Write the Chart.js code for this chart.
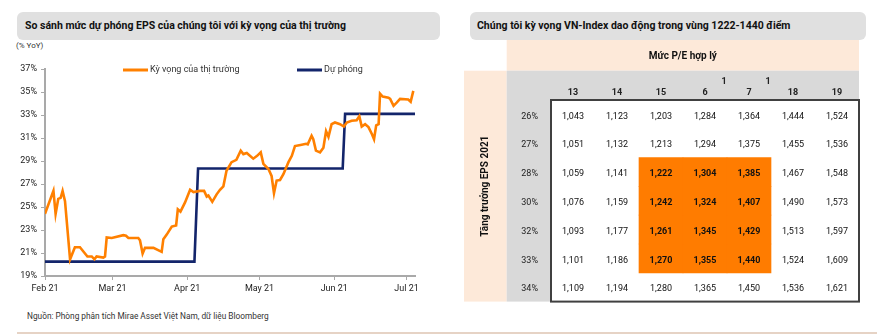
<!DOCTYPE html>
<html>
<head>
<meta charset="utf-8">
<script src="https://cdn.jsdelivr.net/npm/chart.js@4.4.0/dist/chart.umd.min.js"></script>
<style>
  body { margin: 0; width: 877px; height: 335px; background: #fff; position: relative; overflow: hidden; font-family: Roboto, 'Noto Sans', sans-serif; color: #222; }
  .title-box { position: absolute; top: 12px; height: 28px; background: #e0e0e0; border-radius: 6px; font-weight: bold; font-size: 10.5px; line-height: 28px; color: #111; }
  #left-title { left: 17px; width: 423px; padding-left: 8px; box-sizing: border-box; }
  #right-title { left: 470px; width: 396px; padding-left: 7px; box-sizing: border-box; }
  #unit { position: absolute; left: 16px; top: 41px; font-size: 8px; color: #333; }
  #source { position: absolute; left: 27px; top: 311px; font-size: 8.3px; color: #333; }
  #rule { position: absolute; left: 17px; top: 332px; width: 860px; height: 2px; background: #e6d3c5; }
  #lineWrap { position: absolute; left: 0; top: 55px; width: 440px; height: 250px; }
  #tableWrap { position: absolute; left: 464px; top: 40px; width: 413px; height: 280px; }
</style>
</head>
<body>
<div class="title-box" id="left-title">So sánh mức dự phóng EPS của chúng tôi với kỳ vọng của thị trường</div>
<div class="title-box" id="right-title">Chúng tôi kỳ vọng VN-Index dao động trong vùng 1222-1440 điểm</div>
<div id="unit">(% YoY)</div>
<div id="lineWrap"><canvas id="lineChart" width="440" height="250"></canvas></div>
<div id="tableWrap"><canvas id="tableChart" width="413" height="280"></canvas></div>
<div id="source">Nguồn: Phòng phân tích Mirae Asset Việt Nam, dữ liệu Bloomberg</div>
<div id="rule"></div>
<script>
'use strict';

// ---- left chart data (x = days since 1 Feb 2021) ----
let monthDays = [0, 28, 59, 89, 120, 150];
let monthLabels = ['Feb 21', 'Mar 21', 'Apr 21', 'May 21', 'Jun 21', 'Jul 21'];

let marketDays = [0, 3.5, 4.4, 5.5, 6.5, 7.3, 8.3, 10.4, 12.4, 14.5, 17.6, 19.4, 20.5, 21.4, 24.2, 24.9,
  25.6, 27.7, 32.5, 33.6, 34.6, 38.7, 39.4, 40.5, 41.5, 45, 48.4, 49.1, 50.5, 52.6, 54.4, 55.1, 56.2,
  58.1, 60.2, 61.6, 64.3, 66, 67.1, 67.8, 69.4, 71.2, 72.6, 74, 75.3, 77.4, 79.4, 81.2, 82.3, 83.7,
  86.4, 88, 89.5, 90.6, 92.7, 94, 95, 96.1, 97.5, 98.9, 101, 102.4, 103.7, 106, 108.3, 109, 110.6,
  111.3, 112.4, 114.1, 115.5, 116.6, 117.6, 118.9, 120.3, 122.4, 124, 125.2, 127.2, 129.3, 130.4,
  131.4, 132.8, 134.2, 135.6, 136.5, 137.4, 138.4, 139, 140.1, 142.5, 143.2, 144.6, 146, 147.3,
  150.7, 151.7, 152.8];
let marketValues = [24.4, 26.4, 24.4, 25.7, 25.8, 26.4, 25.5, 20.45, 21.5, 21.5, 20.7, 20.7, 20.45, 20.7, 20.6, 20.7,
  22.35, 22.3, 22.55, 22.5, 22.3, 22.3, 22.1, 20.95, 21.45, 21.45, 21.1, 22.2, 22.6, 23.3, 23.4, 24.8, 24.6,
  25.4, 26.5, 26.3, 26.4, 26.4, 25.9, 26.0, 25.45, 26.1, 26.5, 26.8, 28.15, 28.9, 29.1, 29.9, 29.6, 29.7,
  29.2, 29.45, 29.75, 28.75, 28.3, 27.7, 26.2, 27.3, 27.35, 27.85, 28.9, 29.45, 30.3, 30.4, 30.5, 30.45, 31.2,
  30.9, 29.9, 29.75, 30.15, 31.6, 31.1, 32.2, 32.35, 32.2, 32.0, 32.35, 32.5, 32.55, 32.9,
  32.0, 32.2, 31.95, 31.35, 30.9, 32.1, 32.2, 34.85, 34.6, 34.5, 34.4, 33.8, 34.1, 34.4,
  34.35, 34.15, 35.1];

let forecastDays = [0, 62, 63.5, 123.5, 124.5, 153.5];
let forecastValues = [20.25, 20.25, 28.35, 28.35, 33.1, 33.1];

// ---- right table data ----
let peLabels = ['13', '14', '15', '16', '17', '18', '19'];
let growthLabels = ['26%', '27%', '28%', '30%', '32%', '33%', '34%'];
let row26 = [1043, 1123, 1203, 1284, 1364, 1444, 1524];
let row27 = [1051, 1132, 1213, 1294, 1375, 1455, 1536];
let row28 = [1059, 1141, 1222, 1304, 1385, 1467, 1548];
let row30 = [1076, 1159, 1242, 1324, 1407, 1490, 1573];
let row32 = [1093, 1177, 1261, 1345, 1429, 1513, 1597];
let row33 = [1101, 1186, 1270, 1355, 1440, 1524, 1609];
let row34 = [1109, 1194, 1280, 1365, 1450, 1536, 1621];
let highlightPE = ['15', '16', '17'];
let highlightGrowth = ['28%', '30%', '32%', '33%'];

let allRows = [row26, row27, row28, row30, row32, row33, row34];

const FONT = 'Roboto, "Noto Sans", sans-serif';
const ORANGE = '#ff8000';
const NAVY = '#13256b';
const AXIS_GREY = '#a9a9a9';

function toPoints(xs, ys) {
  return xs.map(function (x, i) { return { x: x, y: ys[i] }; });
}

// small legend drawn inside the plot, like the original
let insideLegend = {
  id: 'insideLegend',
  afterDraw: function (chart) {
    let ctx = chart.ctx;
    let spots = [123, 297];
    ctx.save();
    ctx.font = '9px ' + FONT;
    ctx.textBaseline = 'middle';
    ctx.fillStyle = '#333';
    chart.data.datasets.forEach(function (ds, i) {
      let x = spots[i];
      let y = 15;
      ctx.strokeStyle = ds.borderColor;
      ctx.lineWidth = 3;
      ctx.beginPath();
      ctx.moveTo(x, y);
      ctx.lineTo(x + 25, y);
      ctx.stroke();
      ctx.fillText(ds.label, x + 27, y);
    });
    ctx.restore();
  }
};

function viewLineChart() {
  let ctx = document.getElementById('lineChart').getContext('2d');
  new Chart(ctx, {
    type: 'line',
    data: {
      datasets: [{
        label: 'Kỳ vọng của thị trường',
        data: toPoints(marketDays, marketValues),
        borderColor: ORANGE,
        borderWidth: 2.6,
        pointRadius: 0,
        tension: 0
      }, {
        label: 'Dự phóng',
        data: toPoints(forecastDays, forecastValues),
        borderColor: NAVY,
        borderWidth: 2.6,
        pointRadius: 0,
        tension: 0
      }]
    },
    options: {
      responsive: false,
      animation: false,
      layout: { padding: { top: 14, right: 25, left: 0, bottom: 0 } },
      plugins: { legend: { display: false }, tooltip: { enabled: false } },
      scales: {
        x: {
          type: 'linear',
          min: 0,
          max: 153.5,
          afterBuildTicks: function (axis) {
            axis.ticks = monthDays.map(function (d) { return { value: d }; });
          },
          afterFit: function (axis) { axis.height = 29; },
          ticks: {
            callback: function (v) { return monthLabels[monthDays.indexOf(v)]; },
            font: { family: FONT, size: 9 },
            color: '#222',
            padding: 3,
            maxRotation: 0,
            autoSkip: false
          },
          grid: { drawOnChartArea: false, tickLength: 4, color: AXIS_GREY },
          border: { color: AXIS_GREY, width: 2 }
        },
        y: {
          min: 19,
          max: 37,
          afterFit: function (axis) { axis.width = 45; },
          ticks: {
            stepSize: 2,
            callback: function (v) { return v + '%'; },
            font: { family: FONT, size: 9 },
            color: '#222',
            padding: 4
          },
          grid: { drawOnChartArea: false, tickLength: 4, color: AXIS_GREY },
          border: { color: AXIS_GREY, width: 2 }
        }
      }
    },
    plugins: [insideLegend]
  });
}

// peach / grey header bands, cell numbers and the frame of the table
let tableDecor = {
  id: 'tableDecor',
  beforeDraw: function (chart) {
    let ctx = chart.ctx;
    let a = chart.chartArea;
    let colLeft = a.left - 44.3;
    let headTop = a.top - 29.3;
    ctx.save();
    ctx.fillStyle = '#fde9d9';
    ctx.fillRect(colLeft, 0, a.right - colLeft, headTop);
    ctx.fillRect(0, headTop, colLeft, a.bottom - headTop);
    ctx.fillStyle = '#d9d9d9';
    ctx.fillRect(colLeft, headTop, a.right - colLeft, a.top - headTop);
    ctx.fillRect(colLeft, a.top, a.left - colLeft, a.bottom - a.top);

    ctx.fillStyle = '#111';
    ctx.textAlign = 'center';
    ctx.textBaseline = 'middle';
    ctx.font = 'bold 10px ' + FONT;
    ctx.fillText('Mức P/E hợp lý', (colLeft + a.right) / 2, headTop / 2 + 1.5);
    ctx.translate(colLeft / 2, (headTop + a.bottom) / 2);
    ctx.rotate(-Math.PI / 2);
    ctx.font = 'bold 10px ' + FONT;
    ctx.fillText('Tăng trưởng EPS 2021', 0, 0);
    ctx.restore();
  },
  afterDatasetsDraw: function (chart) {
    let ctx = chart.ctx;
    ctx.save();
    ctx.textAlign = 'center';
    ctx.textBaseline = 'middle';
    ctx.fillStyle = '#111';
    chart.data.datasets.forEach(function (ds, r) {
      let meta = chart.getDatasetMeta(r);
      meta.data.forEach(function (bar, c) {
        let hot = highlightPE.indexOf(peLabels[c]) >= 0 && highlightGrowth.indexOf(growthLabels[r]) >= 0;
        ctx.font = (hot ? 'bold ' : '') + '9px ' + FONT;
        ctx.fillText(ds.cellValues[c].toLocaleString('en-US'), bar.x, (bar.y + bar.base) / 2 + 2);
      });
    });
    let a = chart.chartArea;
    ctx.strokeStyle = '#404040';
    ctx.lineWidth = 2;
    ctx.strokeRect(a.left, a.top, a.right - a.left, a.bottom - a.top);
    ctx.restore();
  }
};

function viewTableChart() {
  let datasets = allRows.map(function (values, r) {
    return {
      label: growthLabels[r],
      cellValues: values,
      data: peLabels.map(function () { return [r, r + 1]; }),
      backgroundColor: peLabels.map(function (pe) {
        let hot = highlightPE.indexOf(pe) >= 0 && highlightGrowth.indexOf(growthLabels[r]) >= 0;
        return hot ? '#ff7c00' : 'rgba(0,0,0,0)';
      }),
      borderWidth: 0,
      grouped: false,
      barPercentage: 1,
      categoryPercentage: 1
    };
  });

  let ctx = document.getElementById('tableChart').getContext('2d');
  new Chart(ctx, {
    type: 'bar',
    data: { labels: peLabels, datasets: datasets },
    options: {
      responsive: false,
      animation: false,
      layout: { padding: { top: 0, right: 18, left: 0, bottom: 5 } },
      plugins: { legend: { display: false }, tooltip: { enabled: false } },
      scales: {
        x: {
          position: 'top',
          afterFit: function (axis) { axis.height = 60; },
          grid: { display: false, drawTicks: false },
          border: { display: false },
          ticks: {
            // the 16 and 17 headers wrap oddly in the source sheet
            callback: function (v, i) {
              let t = peLabels[i];
              if (t === '16' || t === '17') return [' '.repeat(17) + t[0], t[1]];
              return t;
            },
            font: { family: FONT, size: 9, weight: 'bold' },
            color: '#222',
            padding: 2,
            maxRotation: 0,
            autoSkip: false
          }
        },
        y: {
          min: 0,
          max: 7,
          reverse: true,
          afterFit: function (axis) { axis.width = 87; },
          afterBuildTicks: function (axis) {
            axis.ticks = growthLabels.map(function (g, i) { return { value: i + 0.5 }; });
          },
          grid: { display: false, drawTicks: false },
          border: { display: false },
          ticks: {
            callback: function (v) { return growthLabels[Math.floor(v)]; },
            font: { family: FONT, size: 9 },
            color: '#222',
            padding: 13,
            labelOffset: 2,
            autoSkip: false
          }
        }
      }
    },
    plugins: [tableDecor]
  });
}

viewLineChart();
viewTableChart();
</script>
</body>
</html>
